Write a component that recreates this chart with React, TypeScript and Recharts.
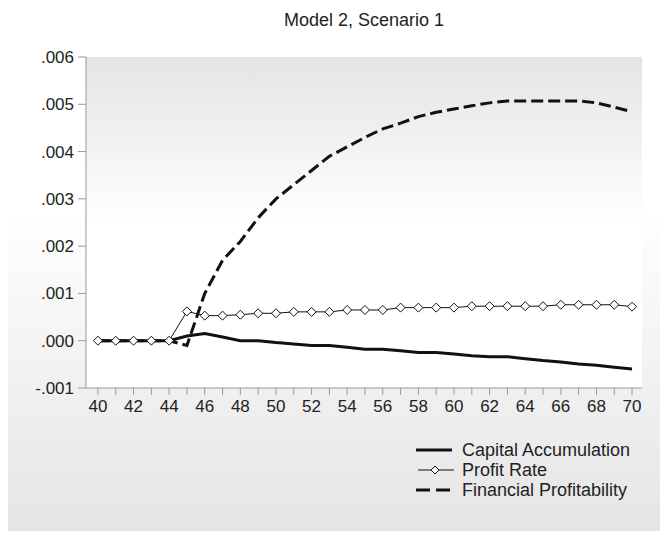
import { CartesianGrid, Legend, Line, LineChart, XAxis, YAxis } from 'recharts';

const years = [40, 41, 42, 43, 44, 45, 46, 47, 48, 49, 50, 51, 52, 53, 54, 55, 56, 57, 58, 59, 60, 61, 62, 63, 64, 65, 66, 67, 68, 69, 70];

const capitalAccumulation = [0, 0, 0, 0, 0, 0.0001, 0.00015, 0.00008, 0, 0, -0.00004, -0.00007, -0.0001, -0.0001, -0.00014, -0.00018, -0.00018, -0.00021, -0.00025, -0.00025, -0.00028, -0.00032, -0.00034, -0.00034, -0.00038, -0.00042, -0.00045, -0.00049, -0.00052, -0.00056, -0.0006];

const profitRate = [0, 0, 0, 0, 0, 0.00062, 0.00053, 0.00053, 0.00055, 0.00058, 0.00058, 0.00061, 0.00061, 0.00061, 0.00065, 0.00065, 0.00065, 0.0007, 0.0007, 0.0007, 0.0007, 0.00073, 0.00073, 0.00073, 0.00073, 0.00073, 0.00076, 0.00076, 0.00076, 0.00076, 0.00072];

const financialProfitability = [0, 0, 0, 0, 0, -0.0001, 0.001, 0.0017, 0.0021, 0.0026, 0.003, 0.0033, 0.0036, 0.0039, 0.0041, 0.0043, 0.00448, 0.0046, 0.00474, 0.00483, 0.0049, 0.00497, 0.00503, 0.00507, 0.00507, 0.00507, 0.00507, 0.00507, 0.00503, 0.00494, 0.00484];

const yTicks = [-0.001, 0, 0.001, 0.002, 0.003, 0.004, 0.005, 0.006];

const title = 'Model 2, Scenario 1';
const seriesNames = ['Capital Accumulation', 'Profit Rate', 'Financial Profitability'];

const data = years.map((y, i) => ({
    year: y,
    capital: capitalAccumulation[i],
    profit: profitRate[i],
    financial: financialProfitability[i],
}));

const FONT = '"Liberation Sans", Arial, sans-serif';

const fmtY = (v: number) => {
    const s = Math.abs(v).toFixed(3).replace(/^0/, '');
    return v < 0 ? '-' + s : s;
};

const Diamond = (props: any) => {
    const { cx, cy } = props;
    if (cx == null || cy == null) return null;
    return (
        <polygon
            points={`${cx},${cy - 4.5} ${cx + 4.5},${cy} ${cx},${cy + 4.5} ${cx - 4.5},${cy}`}
            fill="#fff"
            stroke="#111"
            strokeWidth={1}
        />
    );
};

const LegendBox = () => (
    <div style={{ fontFamily: FONT, fontSize: 18, color: '#222' }}>
        {seriesNames.map((name, i) => (
            <div key={name} style={{ display: 'flex', alignItems: 'center', height: 20 }}>
                <svg width={46} height={20}>
                    {i === 0 && <line x1={0} y1={10} x2={36} y2={10} stroke="#111" strokeWidth={3} />}
                    {i === 1 && (
                        <>
                            <line x1={2} y1={10} x2={38} y2={10} stroke="#111" strokeWidth={1} />
                            <polygon points="19,6 23,10 19,14 15,10" fill="#fff" stroke="#111" />
                        </>
                    )}
                    {i === 2 && <line x1={0} y1={10} x2={36} y2={10} stroke="#111" strokeWidth={3} strokeDasharray="14 6" />}
                </svg>
                <span style={{ lineHeight: '20px' }}>{name}</span>
            </div>
        ))}
    </div>
);

export default function App() {
    return (
        <div
            style={{
                margin: -8,
                width: 668,
                height: 539,
                position: 'relative',
                overflow: 'hidden',
                background: 'linear-gradient(to bottom, #ffffff 0px, #ffffff 210px, #e4e4e4 539px)',
                fontFamily: FONT,
            }}
        >
            <div
                style={{
                    position: 'absolute',
                    left: 86,
                    width: 556,
                    top: 9,
                    textAlign: 'center',
                    fontSize: 18,
                    color: '#222',
                    lineHeight: '22px',
                }}
            >
                {title}
            </div>
            <LineChart
                width={668}
                height={539}
                data={data}
                margin={{ top: 57, right: 26, left: 0, bottom: 121 }}
            >
                <defs>
                    <linearGradient id="plotBg" x1="0" y1="0" x2="0" y2="1">
                        <stop offset="0%" stopColor="#e4e4e4" />
                        <stop offset="50%" stopColor="#ffffff" />
                        <stop offset="100%" stopColor="#ffffff" />
                    </linearGradient>
                </defs>
                <CartesianGrid horizontal={false} vertical={false} fill="url(#plotBg)" />
                <XAxis
                    dataKey="year"
                    type="number"
                    domain={[39.33, 70.56]}
                    allowDataOverflow
                    ticks={years}
                    interval={0}
                    tickFormatter={(v: number) => (v % 2 === 0 ? String(v) : '')}
                    height={30}
                    tickSize={7}
                    tickMargin={5}
                    stroke="#999"
                    tick={{ fill: '#222', fontSize: 17, fontFamily: FONT }}
                />
                <YAxis
                    type="number"
                    domain={[-0.001, 0.006]}
                    ticks={yTicks}
                    interval={0}
                    tickFormatter={fmtY}
                    width={86}
                    tickSize={8}
                    tickMargin={4}
                    stroke="#999"
                    tick={{ fill: '#222', fontSize: 17, fontFamily: FONT }}
                />
                <Legend
                    layout="horizontal"
                    verticalAlign="middle"
                    align="center"
                    wrapperStyle={{ left: 416, top: 440, width: 250 }}
                    content={() => <LegendBox />}
                />
                <Line dataKey="capital" name={seriesNames[0]} stroke="#111" strokeWidth={3} dot={false} isAnimationActive={false} />
                <Line dataKey="profit" name={seriesNames[1]} stroke="#111" strokeWidth={1} dot={<Diamond />} isAnimationActive={false} />
                <Line dataKey="financial" name={seriesNames[2]} stroke="#111" strokeWidth={3} strokeDasharray="12 5" dot={false} isAnimationActive={false} />
            </LineChart>
        </div>
    );
}
